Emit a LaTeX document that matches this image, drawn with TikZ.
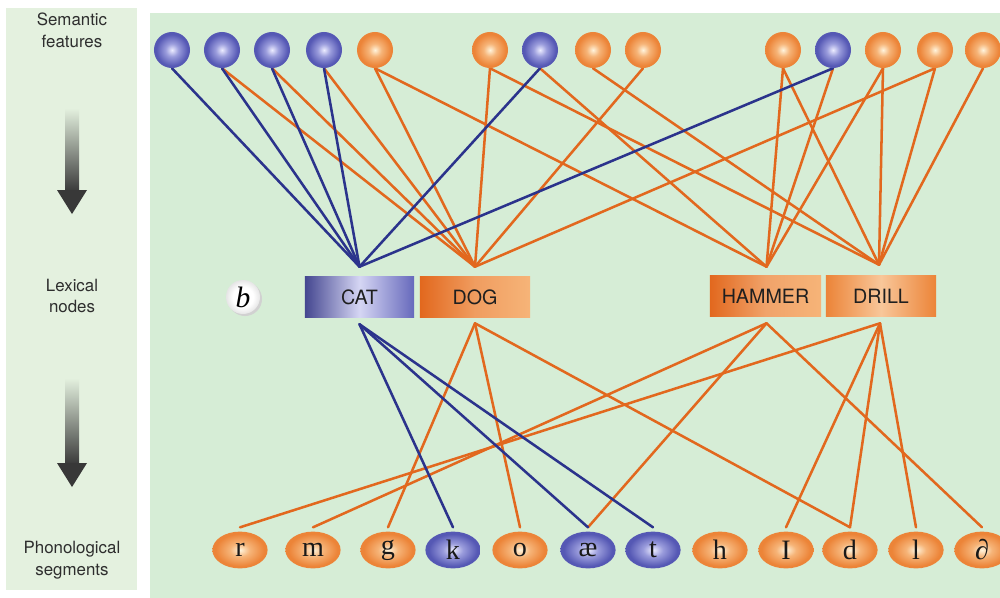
\documentclass[tikz,border=0pt]{standalone}
\usepackage{fontspec}
\setmainfont{Liberation Serif}
\newfontfamily\labelsans{TeX Gyre Heros}
\usetikzlibrary{calc,shapes.geometric}

\definecolor{panel}{HTML}{D6EDD6}
\definecolor{sidepanel}{HTML}{E4F1DF}
\definecolor{wireblue}{HTML}{2B338C}
\definecolor{wireorange}{HTML}{E2681E}
\definecolor{ballblue}{HTML}{5558B4}
\definecolor{ballbluemid}{HTML}{9A9CDC}
\definecolor{ballbluein}{HTML}{ECECFF}
\definecolor{ballorange}{HTML}{EC8438}
\definecolor{ballorangemid}{HTML}{F6B478}
\definecolor{ballorangein}{HTML}{FFF4DC}
\definecolor{labelgrey}{HTML}{2E2E2E}
\definecolor{arrowdark}{HTML}{383838}

\pgfdeclareradialshading{blueglow}{\pgfpointorigin}{%
  color(0bp)=(ballbluein); color(9bp)=(ballbluemid); color(22bp)=(ballblue); color(50bp)=(ballblue)}
\pgfdeclareradialshading{orangeglow}{\pgfpointorigin}{%
  color(0bp)=(ballorangein); color(9bp)=(ballorangemid); color(22bp)=(ballorange); color(50bp)=(ballorange)}
\pgfdeclareradialshading{pearl}{\pgfpointorigin}{%
  color(0bp)=(white); color(15bp)=(white); color(25bp)=(black!10); color(50bp)=(black!10)}

\pgfdeclarelayer{backdrop}
\pgfdeclarelayer{wires}
\pgfsetlayers{backdrop,wires,main}

\tikzset{
  feat/.style={circle, minimum size=0.9cm, inner sep=0pt},
  featblue/.style={feat, shading=blueglow},
  featorange/.style={feat, shading=orangeglow},
  seg/.style={ellipse, minimum width=1.38cm, minimum height=0.92cm, inner sep=0pt,
    font=\fontsize{20}{20}\selectfont, text=black!90},
  segblue/.style={seg, shading=blueglow},
  segorange/.style={seg, shading=orangeglow},
  lex/.style={rectangle, minimum height=1cm, inner sep=0pt,
    font=\labelsans\fontsize{14}{14}\selectfont, text=black!88},
  wire/.style={line width=1.8pt, line cap=round},
  bluewire/.style={wire, draw=wireblue},
  orangewire/.style={wire, draw=wireorange},
  sidelabel/.style={align=center, text=labelgrey,
    font=\labelsans\fontsize{12}{15.5}\selectfont},
}

\begin{document}
\begin{tikzpicture}[x=0.025cm, y=-0.025cm]
\useasboundingbox (0,0) rectangle (1000,598);

% panels
\begin{pgfonlayer}{backdrop}
  \fill[white] (0,0) rectangle (1000,598);
  \fill[sidepanel] (6,8) rectangle (137,590);
  \fill[panel] (150,13) rectangle (1000,598);
  % downward arrows of the side panel
  \shade[top color=sidepanel, bottom color=arrowdark] (65,108) rectangle (79,192);
  \fill[arrowdark] (57,190) -- (87,190) -- (72,214) -- cycle;
  \shade[top color=sidepanel, bottom color=arrowdark] (65,378) rectangle (79,465);
  \fill[arrowdark] (57,463) -- (87,463) -- (72,487) -- cycle;
  % soft shadow under the panel letter
  \fill[black!18] (245,299) circle (17);
\end{pgfonlayer}

% level labels
\node[sidelabel] (lab-sem) at (72,30) {Semantic\\features};
\node[sidelabel] (lab-lex) at (72,296) {Lexical\\nodes};
\node[sidelabel] (lab-pho) at (72,560) {Phonological\\segments};

% semantic features
\foreach \n/\x/\c in {1/172/blue,2/222/blue,3/272/blue,4/324/blue,5/375/orange,
    6/490/orange,7/540/blue,8/593/orange,9/643/orange,10/783/orange,
    11/833/blue,12/883/orange,13/935/orange,14/983/orange}
  \node[feat\c] (f\n) at (\x,50) {};

% panel letter
\node[circle, minimum size=0.85cm, inner sep=0pt, shading=pearl,
      font=\itshape\fontsize{21}{21}\selectfont] (tag) at (243,297) {b};

% lexical nodes (left/right first, then the middle tone)
\node[lex, minimum width=2.73cm, left color=ballblue!80!black, right color=ballblue!90!white,
      middle color=ballbluein!85!ballblue] (cat) at (359.5,297) {CAT};
\node[lex, minimum width=2.75cm, left color=wireorange, right color=ballorangemid,
      middle color=ballorange!80!white] (dog) at (475,297) {DOG};
\node[lex, minimum width=2.78cm, left color=wireorange, right color=ballorangemid,
      middle color=ballorange!75!white] (hammer) at (765.5,296) {HAMMER};
\node[lex, minimum width=2.75cm, left color=ballorange, right color=ballorange,
      middle color=ballorangemid!75!white] (drill) at (881,296) {DRILL};

% phonological segments
\foreach \n/\x/\c/\t in {r/240/orange/r, m/313/orange/m, g/388/orange/g, k/453/blue/k,
    o/520/orange/o, ae/588/blue/æ, t/653/blue/t, h/720/orange/h, I/786/orange/I,
    d/850/orange/d, l/916/orange/l, schwa/982/orange/∂}
  \node[seg\c] (p-\n) at (\x,550) {\t};

% junction points just above and below each lexical node
\coordinate (cat-up) at ($(cat.north)+(0,-10)$);
\coordinate (dog-up) at ($(dog.north)+(0,-10)$);
\coordinate (ham-up) at ($(hammer.north)+(1,-9)$);
\coordinate (dri-up) at ($(drill.north)+(-2,-11)$);
\coordinate (cat-dn) at ($(cat.south)+(0,7)$);
\coordinate (dog-dn) at ($(dog.south)+(0,6)$);
\coordinate (ham-dn) at ($(hammer.south)+(1,7)$);
\coordinate (dri-dn) at ($(drill.south)+(-1,7)$);

\begin{pgfonlayer}{wires}
  % features -> lexical nodes
  \foreach \s in {2,3,4,5,6,9,13} \draw[orangewire] (f\s.south) -- (dog-up);
  \foreach \s in {5,7,10,11,12} \draw[orangewire] (f\s.south) -- (ham-up);
  \foreach \s in {6,8,10,12,13,14} \draw[orangewire] (f\s.south) -- (dri-up);
  \foreach \s in {1,2,3,4,7,11} \draw[bluewire] (f\s.south) -- (cat-up);
  % lexical nodes -> segments
  \foreach \p in {g,o,d} \draw[orangewire] (dog-dn) -- ($(p-\p.north)+(0,-4)$);
  \foreach \p in {m,ae,schwa} \draw[orangewire] (ham-dn) -- ($(p-\p.north)+(0,-4)$);
  \foreach \p in {r,I,d,l} \draw[orangewire] (dri-dn) -- ($(p-\p.north)+(0,-4)$);
  \foreach \p in {k,ae,t} \draw[bluewire] (cat-dn) -- ($(p-\p.north)+(0,-4)$);
\end{pgfonlayer}
\end{tikzpicture}
\end{document}
